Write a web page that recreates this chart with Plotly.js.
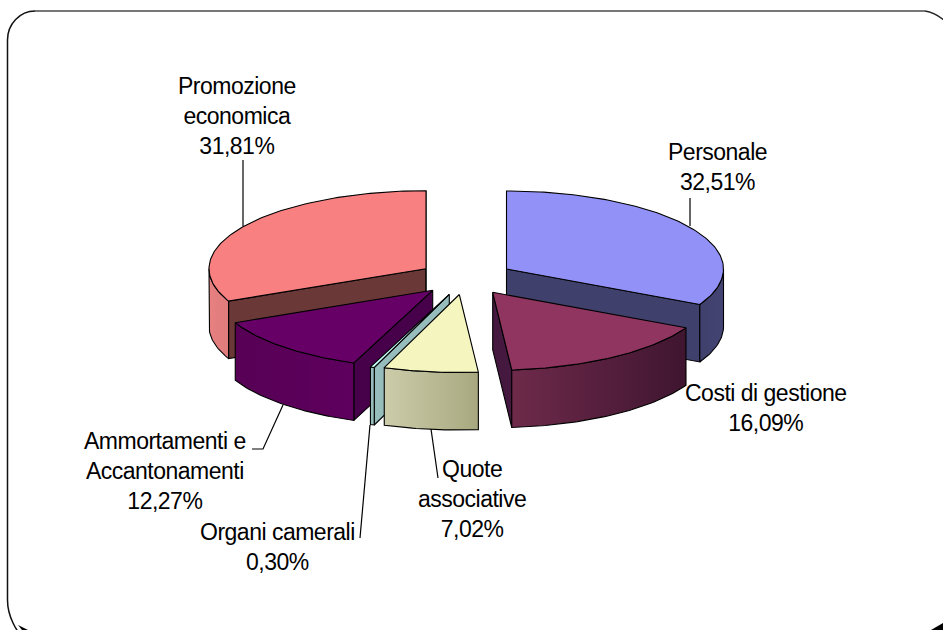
<!DOCTYPE html>
<html>
<head>
<meta charset="utf-8">
<script src="https://cdn.plot.ly/plotly-3.0.1.min.js"></script>
<style>html,body{margin:0;padding:0;background:#fff}#chart{width:943px;height:630px}.annotation-text{letter-spacing:-0.5px}</style>
</head>
<body>
<div id="chart"></div>
<script>
// ---- data ----
const categories = ["Personale", "Costi di gestione", "Quote associative", "Organi camerali", "Ammortamenti e Accantonamenti", "Promozione economica"];
const values = [32.51, 16.09, 7.02, 0.30, 12.27, 31.81];
const labelLines = [["Personale"], ["Costi di gestione"], ["Quote", "associative"], ["Organi camerali"], ["Ammortamenti e", "Accantonamenti"], ["Promozione", "economica"]];

// ---- layout of the exploded 3D pie ----
const apexX = [506.5, 492.7, 459.3, 449.3, 432.7, 426];
const apexY = [269, 292.3, 294.5, 294.3, 290.3, 268.7];
const radiusX = 217, radiusY = 78, depth = 57.5;
const topColors = ["#9191F7", "#8F3560", "#F5F5BF", "#CCFFFF", "#660066", "#F98080"];
const sideColors = ["#40406C", "#45193F", "#A8A880", "#96BCBC", "#47004A", "#6B3838"];
const frontScales = [
  ["#40406C", "#444474"],
  ["#6E2A4A", "#3F1530"],
  ["#CCCCAA", "#A8A880"],
  ["#96BCBC", "#96BCBC"],
  ["#570055", "#5E005E"],
  ["#E88080", "#DE7C7C"]
];
const drawOrder = [5, 0, 4, 3, 2, 1];
const labelX = [717, 766, 472, 277, 165, 237];
const labelY = [167, 408, 499, 547, 471, 116];
const leaderX = [[690, 690], null, [431, 438], [370, 360], [283, 263, 252], [243, 243]];
const leaderY = [[198, 226], null, [429, 478], [425, 538], [405, 449, 449], [160, 226]];

// ---- geometry helpers ----
const total = values.reduce((a, b) => a + b, 0);
const rad = d => d * Math.PI / 180;
function rim(i, deg) {
  return [apexX[i] + radiusX * Math.sin(rad(deg)), apexY[i] - radiusY * Math.cos(rad(deg))];
}
function arc(i, a, b) {
  const pts = [], n = Math.max(2, Math.ceil(Math.abs(b - a)));
  for (let k = 0; k <= n; k++) pts.push(rim(i, a + (b - a) * k / n));
  return pts;
}
function poly(pts, fill, gradient) {
  const t = {
    type: "scatter", mode: "lines", hoverinfo: "skip", showlegend: false,
    x: pts.map(p => p[0]).concat(pts[0][0]), y: pts.map(p => p[1]).concat(pts[0][1]),
    fill: "toself", line: {color: "#000", width: 1.1}, fillcolor: fill
  };
  if (gradient) {
    t.fillgradient = {type: "horizontal", colorscale: [[0, gradient[0]], [1, gradient[1]]]};
  }
  return t;
}

const starts = [];
let acc = 0;
values.forEach(v => { starts.push(acc); acc += v / total * 360; });

const traces = [];
drawOrder.forEach(i => {
  const a = starts[i], b = starts[i] + values[i] / total * 360;
  const apex = [apexX[i], apexY[i]];
  const down = p => [p[0], p[1] + depth];
  // radial faces turned toward the viewer
  if (Math.sin(rad(a)) < 0) {
    const r = rim(i, a);
    traces.push(poly([apex, r, down(r), down(apex)], sideColors[i]));
  }
  if (Math.sin(rad(b)) > 0) {
    const r = rim(i, b);
    traces.push(poly([apex, r, down(r), down(apex)], sideColors[i]));
  }
  // outer curved wall (front half only)
  const fa = Math.max(a, 90), fb = Math.min(b, 270);
  if (fb > fa) {
    const upper = arc(i, fa, fb);
    const lower = upper.map(down).reverse();
    traces.push(poly(upper.concat(lower), frontScales[i][0], frontScales[i]));
  }
  // top face
  traces.push(poly([apex].concat(arc(i, a, b)), topColors[i]));
});

// leader lines
leaderX.forEach((lx, i) => {
  if (!lx) return;
  traces.push({type: "scatter", mode: "lines", hoverinfo: "skip", showlegend: false,
    x: lx, y: leaderY[i], line: {color: "#000", width: 1.2}});
});

const annotations = categories.map((c, i) => ({
  xref: "x", yref: "y", x: labelX[i], y: labelY[i],
  xanchor: "center", yanchor: "middle", align: "center", showarrow: false,
  text: labelLines[i].concat(values[i].toFixed(2).replace(".", ",") + "%").join("<br>"),
  font: {family: "'Liberation Sans', Arial, sans-serif", size: 23, color: "#000"}
}));

const shapes = [
  {type: "path", xref: "x", yref: "y", layer: "below",
   path: "M 30,645 C 15,632 7.5,615 7.5,600 L 7.5,40 C 7.5,24 20,11 35,11",
   line: {color: "#111", width: 1.5}},
  {type: "path", xref: "x", yref: "y", layer: "below",
   path: "M 35,11 L 925,11", line: {color: "#777", width: 2}},
  {type: "path", xref: "x", yref: "y", layer: "below",
   path: "M 925,11 C 932,12 938,15 945,21", line: {color: "#222", width: 1.5}},
  {type: "path", xref: "x", yref: "y", layer: "below", fillcolor: "#000",
   path: "M 931,630 L 943,623 L 943,630 Z", line: {width: 0}},
  {type: "path", xref: "x", yref: "y", layer: "below", fillcolor: "#000",
   path: "M 18,625 L 28,630 L 22,630 Z", line: {width: 0}}
];

const hidden = {visible: false, fixedrange: true};
Plotly.newPlot("chart", traces, {
  width: 943, height: 630,
  margin: {l: 0, r: 0, t: 0, b: 0},
  paper_bgcolor: "#fff", plot_bgcolor: "#fff", showlegend: false,
  xaxis: Object.assign({range: [0, 943]}, hidden),
  yaxis: Object.assign({range: [630, 0]}, hidden),
  annotations, shapes
}, {displayModeBar: false, staticPlot: true});
</script>
</body>
</html>
